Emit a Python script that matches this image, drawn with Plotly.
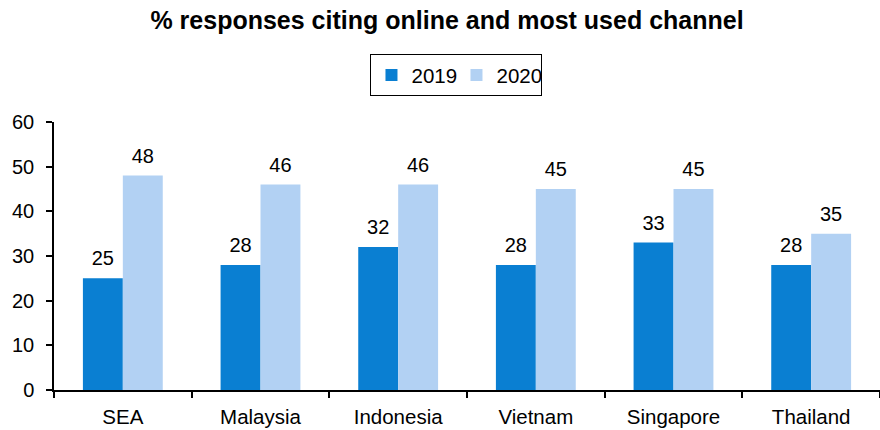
import plotly.graph_objects as go

# Share of responses citing online as the most used channel, by market
markets = ["SEA", "Malaysia", "Indonesia", "Vietnam", "Singapore", "Thailand"]
values_2019 = [25, 28, 32, 28, 33, 28]
values_2020 = [48, 46, 46, 45, 45, 35]
y_ticks = [0, 10, 20, 30, 40, 50, 60]

FONT = "Liberation Sans, Arial, sans-serif"
series = [("2019", values_2019, "#0A7FD2"), ("2020", values_2020, "#B2D1F3")]

fig = go.Figure()
for name, vals, color in series:
    fig.add_trace(go.Bar(
        name=name, x=markets, y=vals, offsetgroup=name,
        marker=dict(color=color, line=dict(width=0)),
        hoverinfo="x+y",
    ))
for name, vals, color in series:
    # Value labels, grouped the same way as the bars; the invisible marker
    # keeps a little space between the label and the top of the bar.
    fig.add_trace(go.Scatter(
        x=markets, y=vals, offsetgroup=name, mode="markers+text",
        marker=dict(size=11, opacity=0),
        text=[str(v) for v in vals], textposition="top center",
        textfont=dict(size=20, color="#000000", family=FONT),
        cliponaxis=False, showlegend=False, hoverinfo="skip",
    ))

fig.update_layout(
    width=880, height=430,
    margin=dict(l=54, r=0, t=122, b=40),
    paper_bgcolor="white", plot_bgcolor="white",
    font=dict(family=FONT, size=20, color="#000000"),
    barmode="group", bargap=0.42, bargroupgap=0,
    scattermode="group", scattergap=0.42,
    title=dict(
        text="<b>% responses citing online and most used channel</b>",
        x=0.508, xref="container", xanchor="center",
        y=0.953, yref="container", yanchor="middle",
        font=dict(size=25, family=FONT, color="#000000"),
    ),
    legend=dict(
        orientation="h",
        xref="container", yref="container",
        x=0.421, xanchor="left",
        y=0.874, yanchor="top",
        bordercolor="#000000", borderwidth=1,
        bgcolor="white",
        font=dict(size=20.5, family=FONT),
        itemwidth=30, tracegroupgap=0,
        entrywidth=40, entrywidthmode="pixels",
    ),
    showlegend=True,
)

fig.update_xaxes(
    showline=True, linecolor="#000000", linewidth=1.5,
    ticks="outside", tickson="boundaries", ticklen=6, tickwidth=1.5, tickcolor="#000000",
    showgrid=False, tickfont=dict(size=20.5), ticklabelstandoff=8,
)
fig.update_yaxes(
    range=[0, 60], tickvals=y_ticks,
    showline=True, linecolor="#000000", linewidth=1.5,
    ticks="outside", ticklen=6, tickwidth=1.5, tickcolor="#000000",
    showgrid=False, zeroline=False, tickfont=dict(size=20), ticklabelstandoff=8,
)

fig.write_html("out.html")
